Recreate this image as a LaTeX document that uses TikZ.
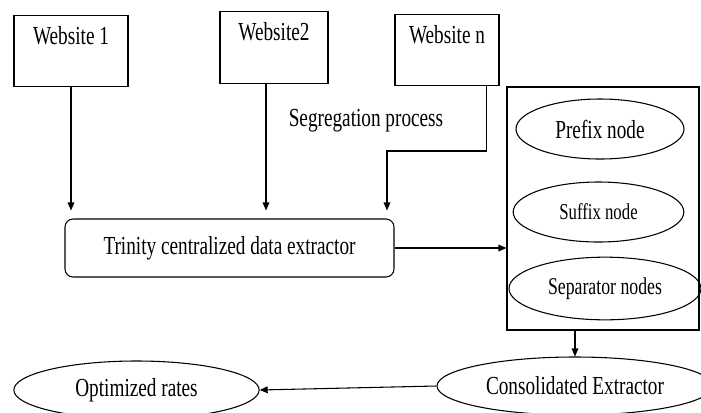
\documentclass[tikz,border=0pt]{standalone}
\usepackage{fontspec}
\setmainfont{Liberation Serif}[FakeStretch=0.74]
\usetikzlibrary{arrows.meta,shapes.geometric}

\tikzset{
  site/.style={draw, rectangle, inner sep=0pt, text height=21.5pt, text depth=32pt},
  oval/.style={draw, ellipse, inner sep=0pt},
  flow/.style={-{Triangle[length=6pt,width=5pt]}},
}

\begin{document}
\begin{tikzpicture}[x=0.75pt,y=-0.75pt,line width=0.8pt,font=\fontsize{19.5}{23}\selectfont]
  \useasboundingbox (0,0) rectangle (701,412);
  \node[site,minimum width=85.5pt] (web1) at (71,51) {Website 1};
  \node[site,minimum width=81pt] (web2) at (274,47.5) {Website2};
  \node[site,minimum width=78pt] (webn) at (447,50) {Website n};
  \node (seg) at (366,121) {Segregation process};
  \node[draw,rounded corners=6pt,minimum width=246.75pt,minimum height=43.5pt] (trin) at (229.5,248) {Trinity centralized data extractor};
  \node[draw,minimum width=144pt,minimum height=182.25pt] (group) at (603,208.5) {};
  \node[oval,minimum width=126pt,minimum height=45pt] (pre) at (600,129) {Prefix node};
  \node[oval,minimum width=128pt,minimum height=45pt,font=\fontsize{17}{20}\selectfont] (suf) at (598.5,212) {Suffix node};
  \node[oval,minimum width=144pt,minimum height=47pt,font=\fontsize{18}{21}\selectfont] (sep) at (605,288.5) {Separator nodes};
  \node[oval,minimum width=207pt,minimum height=43.5pt] (cons) at (575,386) {Consolidated Extractor};
  \node[oval,minimum width=184pt,minimum height=43.5pt] (opt) at (136.5,390) {Optimized rates\hspace{25pt}};

  \coordinate (kink) at (387,151);
  \draw[flow,shorten >=6pt] (web1.south) -- (web1.south |- trin.north);
  \draw[flow,shorten >=6pt] ([xshift=-6pt]web2.south) -- ([xshift=-6pt]web2.south |- trin.north);
  \draw[flow,shorten >=6pt] ([xshift=-9.75pt]webn.south east) |- (kink) -- (kink |- trin.north);
  \draw[flow] (trin.east) -- (trin.east -| group.west);
  \draw[flow] (group.south -| cons.north) -- (cons.north);
  \draw[flow] (cons.west) -- (opt.east);
\end{tikzpicture}
\end{document}
